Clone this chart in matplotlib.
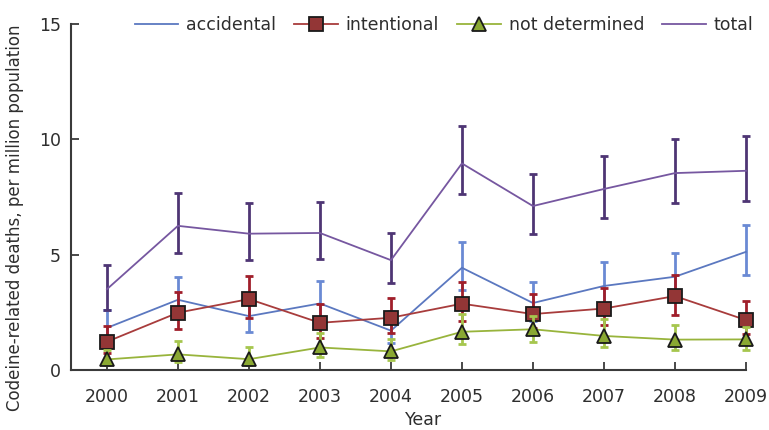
import matplotlib
matplotlib.use("Agg")
import matplotlib.pyplot as plt
import numpy as np

plt.rcParams['font.family'] = ['DejaVu Sans']

years = [2000, 2001, 2002, 2003, 2004, 2005, 2006, 2007, 2008, 2009]

accidental = [1.82, 3.04, 2.33, 2.88, 1.70, 4.43, 2.90, 3.64, 4.04, 5.12]
accidental_lo = [1.15, 2.25, 1.63, 1.95, 1.15, 3.48, 2.10, 2.75, 3.10, 4.13]
accidental_hi = [2.59, 4.04, 3.00, 3.85, 2.55, 5.57, 3.82, 4.66, 5.09, 6.28]

intentional = [1.22, 2.48, 3.07, 2.04, 2.26, 2.87, 2.42, 2.66, 3.20, 2.16]
intentional_lo = [0.74, 1.75, 2.26, 1.40, 1.60, 2.12, 1.80, 1.94, 2.40, 1.54]
intentional_hi = [1.90, 3.37, 4.06, 2.85, 3.10, 3.82, 3.28, 3.54, 4.13, 2.97]

not_determined = [0.45, 0.67, 0.46, 0.97, 0.80, 1.65, 1.76, 1.47, 1.31, 1.32]
not_determined_lo = [0.20, 0.35, 0.20, 0.56, 0.41, 1.11, 1.19, 0.98, 0.84, 0.85]
not_determined_hi = [0.88, 1.24, 0.97, 1.61, 1.32, 2.42, 2.35, 2.21, 1.95, 1.85]

total = [3.50, 6.25, 5.91, 5.94, 4.76, 8.96, 7.11, 7.85, 8.54, 8.64]
total_lo = [2.59, 5.07, 4.78, 4.81, 3.75, 7.63, 5.89, 6.57, 7.24, 7.34]
total_hi = [4.55, 7.66, 7.25, 7.28, 5.94, 10.58, 8.50, 9.29, 10.03, 10.15]

legend_labels = ['accidental', 'intentional', 'not determined', 'total']
y_ticks = [0, 5, 10, 15]


def err(v, lo, hi):
    v = np.array(v); lo = np.array(lo); hi = np.array(hi)
    return np.vstack([v - lo, hi - v])


fig = plt.figure(figsize=(7.69, 4.30), dpi=100)
ax = fig.add_axes([0.092, 0.140, 0.878, 0.8035])

text_c = '#2e2e2e'
spine_c = '#3a3a3a'

series = [
    (accidental, accidental_lo, accidental_hi, '#5b78c0', '#6a8ad4', None, None, legend_labels[0], 2),
    (intentional, intentional_lo, intentional_hi, '#a83c3c', '#a01e2a', 's', '#933636', legend_labels[1], 3),
    (not_determined, not_determined_lo, not_determined_hi, '#98b43c', '#a6c64e', '^', '#8aa832', legend_labels[2], 4),
    (total, total_lo, total_hi, '#7657a0', '#4e3574', None, None, legend_labels[3], 5),
]

handles = []
for vals, lo, hi, lc, ec, mk, mfc, lab, z in series:
    ax.errorbar(years, vals, yerr=err(vals, lo, hi), fmt='none', ecolor=ec,
                elinewidth=2.0, capsize=3.0, capthick=2.0, zorder=z, clip_on=False)
    line, = ax.plot(years, vals, color=lc, lw=1.3, marker=mk if mk else None,
                    markersize=9.5 if mk == 's' else 10, markerfacecolor=mfc,
                    markeredgecolor='#1a1a1a', markeredgewidth=1.3,
                    zorder=z + 0.5, clip_on=False, label=lab)
    handles.append(line)

ax.set_xlim(1999.49, 2009)
ax.set_ylim(0, 15)
ax.set_xticks(years)
ax.set_xticklabels([str(y) for y in years])
ax.set_yticks(y_ticks)

for s in ['top', 'right']:
    ax.spines[s].set_visible(False)
for s in ['left', 'bottom']:
    ax.spines[s].set_color(spine_c)
    ax.spines[s].set_linewidth(1.5)

ax.tick_params(axis='both', direction='in', length=6, width=1.3, color=spine_c,
               labelsize=12.5, labelcolor=text_c)
ax.tick_params(axis='x', pad=13)
ax.tick_params(axis='y', pad=7)

ax.set_ylabel('Codeine-related deaths, per million population', fontsize=12, color=text_c)
ax.yaxis.set_label_coords(-0.069, 0.44)
ax.set_xlabel('Year', fontsize=12.5, color=text_c)
ax.xaxis.set_label_coords(0.522, -0.12)

leg = ax.legend(handles=handles, loc='center', bbox_to_anchor=(0.553, 0.998), ncol=4,
                frameon=False, fontsize=12.5, handlelength=2.5, columnspacing=1.05,
                handletextpad=0.45, labelcolor=text_c, borderpad=0, borderaxespad=0)

fig.savefig('out.png', dpi=100)
